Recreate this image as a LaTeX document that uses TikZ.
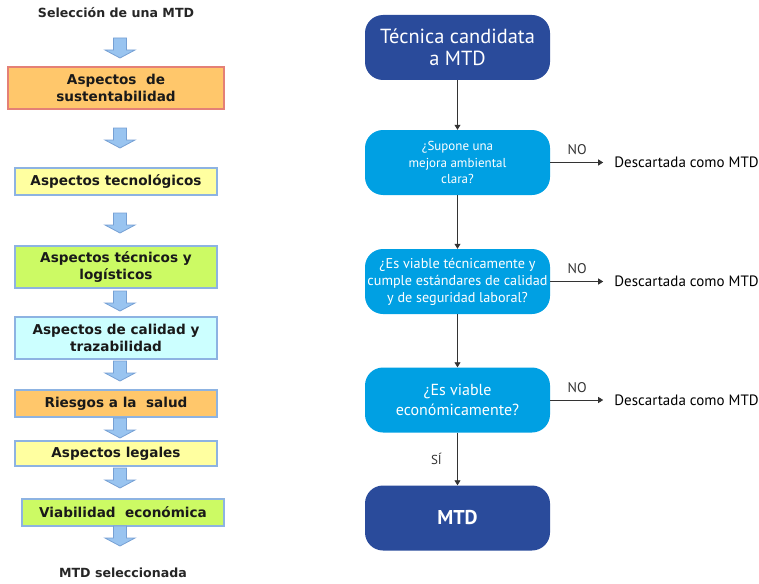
\documentclass[tikz,border=0pt]{standalone}
\usepackage{fontspec}
\setmainfont{DejaVu Sans}
\newfontfamily\myriad{PT Sans}
\usetikzlibrary{positioning,arrows.meta,calc}
\definecolor{sustfill}{RGB}{255,199,107}
\definecolor{sustline}{RGB}{228,128,118}
\definecolor{yelfill}{RGB}{255,255,160}
\definecolor{grnfill}{RGB}{204,250,100}
\definecolor{cyanfill}{RGB}{204,255,255}
\definecolor{boxline}{RGB}{141,179,226}
\definecolor{arrfill}{RGB}{153,196,240}
\definecolor{arrline}{RGB}{118,160,212}
\definecolor{darkblue}{RGB}{42,75,155}
\definecolor{skyblue}{RGB}{0,160,227}
\tikzset{
  title/.style={font=\bfseries\fontsize{12.6}{15}\selectfont, text=black!85},
  crit/.style={rectangle, draw=boxline, line width=1.2pt, align=center,
    font=\bfseries\fontsize{13.6}{17}\selectfont, text=black!90,
    minimum width=202pt, minimum height=27pt, inner sep=0pt},
  mtd/.style={rectangle, rounded corners=18pt, fill=darkblue, text=white,
    align=center, minimum width=185pt, minimum height=65pt,
    font=\myriad\fontsize{20.4}{22}\selectfont},
  question/.style={rectangle, rounded corners=18pt, fill=skyblue, text=white,
    align=center, minimum width=185pt, minimum height=65pt, inner sep=0pt,
    font=\myriad\fontsize{13}{16.5}\selectfont},
  discard/.style={font=\myriad\fontsize{15}{16}\selectfont, inner sep=0pt, anchor=west},
  flow/.style={-{Triangle[length=5pt,width=6pt]}, line width=0.8pt, black!80},
  downarrow/.pic={
    \draw[arrline, fill=arrfill, line width=0.8pt]
      (-6.5,0) -- (6.5,0) -- (6.5,12) -- (15,12) -- (0,20) -- (-15,12) -- (-6.5,12) -- cycle;
  }
}
\begin{document}
\begin{tikzpicture}[x=1pt,y=-1pt]
  \useasboundingbox (0,0) rectangle (759,583);
  % criterios de seleccion
  \node[title] (sel) at (116,13) {Selección de una MTD};
  \node[crit, fill=sustfill, draw=sustline, minimum width=216pt, minimum height=42pt] (sust) at (116,88) {Aspectos\ \ de\\sustentabilidad};
  \node[crit, fill=yelfill] (tecno) at (116,181.5) {Aspectos tecnológicos};
  \node[crit, fill=grnfill, minimum height=42pt] (tecnic) at (116,267) {Aspectos técnicos y\\logísticos};
  \node[crit, fill=cyanfill, minimum height=42pt] (calid) at (116,338) {Aspectos de calidad y\\trazabilidad};
  \node[crit, fill=sustfill] (riesg) at (116,403.5) {Riesgos a la\ \ salud};
  \node[crit, fill=yelfill, minimum height=25pt] (legal) at (116,453.5) {Aspectos legales};
  \node[crit, fill=grnfill] (econ) at (123,512.5) {Viabilidad\ \ económica};
  \node[title] (selok) at (123,573) {MTD seleccionada};
  \foreach \y in {38,128,213,291,361,418,468,526}
    \pic at (120,\y) {downarrow};

  % arbol de decision
  \node[mtd] (cand) at (457.5,47.5) {Técnica candidata\\a MTD};
  \node[question] (q1) at (457.5,162.5) {¿Supone una\\mejora ambiental\\clara?};
  \node[question, font=\myriad\fontsize{14.2}{17}\selectfont] (q2) at (457.5,281.5) {¿Es viable técnicamente y\\cumple estándares de calidad\\y de seguridad laboral?};
  \node[question, font=\myriad\fontsize{16}{20}\selectfont] (q3) at (457.5,400) {¿Es viable\\económicamente?};
  \node[mtd, font=\myriad\bfseries\fontsize{20}{22}\selectfont] (mtd) at (457.5,518) {MTD};

  \draw[flow] (cand) -- (q1);
  \draw[flow] (q1) -- (q2);
  \draw[flow] (q2) -- (q3);
  \draw[flow] (q3) -- (mtd) node[midway, left=12pt, font=\myriad\fontsize{13}{14}\selectfont] {SÍ};
  \foreach \q in {q1,q2,q3} {
    \node[discard, right=64pt of \q.east] (d\q) {Descartada como MTD};
    \draw[flow, shorten >=11pt] (\q.east) -- (d\q.west)
      node[midway, above=4pt, xshift=-5pt, font=\myriad\fontsize{14}{14}\selectfont] {NO};
  }
\end{tikzpicture}
\end{document}
